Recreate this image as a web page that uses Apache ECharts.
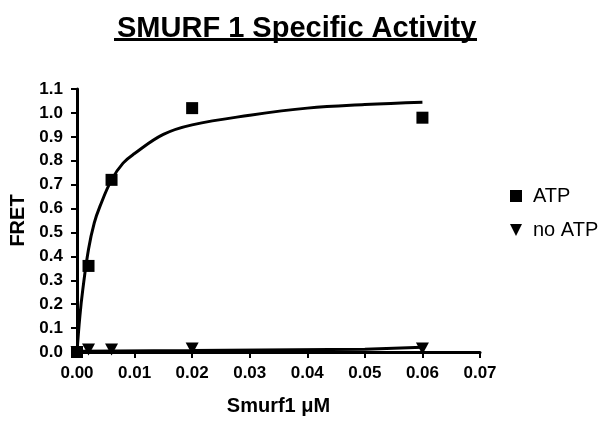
<!DOCTYPE html>
<html><head><meta charset="utf-8">
<script src="https://cdn.jsdelivr.net/npm/echarts@6/dist/echarts.min.js"></script>
<style>html,body{margin:0;padding:0;background:#fff}#c{width:608px;height:421px}</style>
</head><body><div id="c"></div>
<script>
const titleText = "SMURF 1 Specific Activity";
const xName = "Smurf1 μM";
const yName = "FRET";
const atpX = [0, 0.002, 0.006, 0.02, 0.06];
const atpY = [0, 0.36, 0.72, 1.02, 0.98];
const noAtpX = [0, 0.002, 0.006, 0.02, 0.06];
const noAtpY = [0, 0.01, 0.01, 0.015, 0.015];
const atpFitX = [0, 0.0005, 0.001, 0.002, 0.003, 0.004, 0.006, 0.008, 0.01, 0.015, 0.02, 0.03, 0.04, 0.05, 0.06];
const atpFitY = [0, 0.15, 0.26, 0.43, 0.54, 0.61, 0.72, 0.79, 0.83, 0.91, 0.95, 0.99, 1.02, 1.035, 1.045];
const noAtpFitX = [0, 0.02, 0.05, 0.06];
const noAtpFitY = [0.003, 0.006, 0.012, 0.02];

const pairs = (xs, ys) => xs.map((x, i) => [x, ys[i]]);
const chart = echarts.init(document.getElementById('c'), null, {renderer: 'canvas'});
const F = 'Liberation Sans, Arial, sans-serif';
const triPath = 'path://M0,0L10,0L5,10Z';
chart.setOption({
  animation: false,
  backgroundColor: '#fff',
  title: {text: titleText, left: 112, top: 9,
    textStyle: {fontFamily: F, fontWeight: 'bold', fontSize: 29, color: '#000'}},
  graphic: [{type: 'rect', shape: {x: 114, y: 38, width: 363, height: 3}, style: {fill: '#000'}}],
  grid: {left: 77, right: 128, top: 89, bottom: 65},
  legend: {orient: 'vertical', left: 505, top: 181, itemGap: 14, itemWidth: 12, itemHeight: 12,
    data: [{name: 'ATP', icon: 'rect'}, {name: 'no ATP', icon: triPath}],
    textStyle: {fontFamily: F, fontSize: 20, color: '#000', padding: [0, 0, 0, 6]}},
  xAxis: {type: 'value', min: 0, max: 0.07, interval: 0.01,
    name: xName, nameLocation: 'middle', nameGap: 44,
    nameTextStyle: {fontFamily: F, fontWeight: 'bold', fontSize: 20, color: '#000'},
    axisLine: {onZero: false, lineStyle: {color: '#000', width: 3}},
    axisTick: {show: true, length: 6, lineStyle: {color: '#000', width: 2}},
    splitLine: {show: false},
    axisLabel: {fontFamily: F, fontWeight: 'bold', fontSize: 17, color: '#000', margin: 13,
      formatter: v => v.toFixed(2)}},
  yAxis: {type: 'value', min: 0, max: 1.1, interval: 0.1,
    name: yName, nameLocation: 'middle', nameGap: 46, nameRotate: 90,
    nameTextStyle: {fontFamily: F, fontWeight: 'bold', fontSize: 20, color: '#000'},
    axisLine: {show: true, onZero: false, lineStyle: {color: '#000', width: 3}},
    axisTick: {show: true, length: 6, lineStyle: {color: '#000', width: 2}},
    splitLine: {show: false},
    axisLabel: {fontFamily: F, fontWeight: 'bold', fontSize: 17, color: '#000', margin: 14,
      formatter: v => v.toFixed(1)}},
  series: [
    {name: 'ATP fit', type: 'line', data: pairs(atpFitX, atpFitY), smooth: 0.4, showSymbol: false,
      lineStyle: {color: '#000', width: 3}, z: 2},
    {name: 'no ATP fit', type: 'line', data: pairs(noAtpFitX, noAtpFitY), showSymbol: false,
      lineStyle: {color: '#000', width: 3}, z: 2},
    {name: 'ATP', type: 'scatter', data: pairs(atpX, atpY), symbol: 'rect', symbolSize: 12,
      itemStyle: {color: '#000', opacity: 1}, z: 3},
    {name: 'no ATP', type: 'scatter', data: pairs(noAtpX, noAtpY), symbol: triPath,
      symbolSize: [13, 12], itemStyle: {color: '#000', opacity: 1}, z: 3}
  ]
});
</script></body></html>
